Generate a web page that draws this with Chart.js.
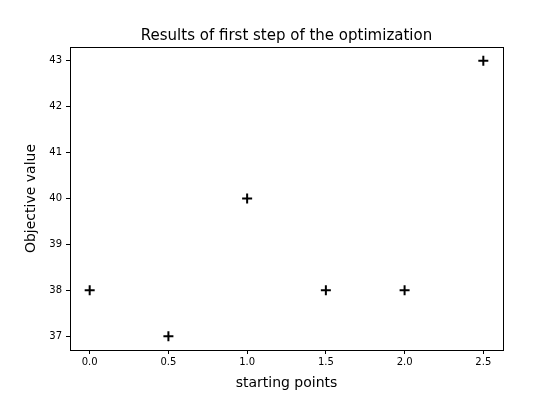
<!DOCTYPE html>
<html>
<head>
<meta charset="utf-8">
<script src="https://cdn.jsdelivr.net/npm/chart.js@4"></script>
<style>
  html, body { margin: 0; background: #fff; }
  #wrap { width: 560px; height: 400px; }
</style>
</head>
<body>
<div id="wrap"><canvas id="c"></canvas></div>
<script>
// data
const startPoints = [0.0, 0.5, 1.0, 1.5, 2.0, 2.5];
const objective = [38, 37, 40, 38, 38, 43];
const xTicks = [0.0, 0.5, 1.0, 1.5, 2.0, 2.5];
const yTicks = [37, 38, 39, 40, 41, 42, 43];
const TITLE = 'Results of first step of the optimization';

const FONT = 'DejaVu Sans';

// box round the plot area, like matplotlib spines, and title centred on it
const frame = {
    id: 'frame',
    afterDraw(chart) {
        const a = chart.chartArea, ctx = chart.ctx;
        ctx.save();
        ctx.strokeStyle = '#000';
        ctx.lineWidth = 1;
        ctx.strokeRect(a.left + 0.5, a.top + 0.5, a.right - a.left, a.bottom - a.top);
        ctx.fillStyle = '#000';
        ctx.font = `15px "${FONT}"`;
        ctx.textAlign = 'center';
        ctx.textBaseline = 'middle';
        ctx.fillText(TITLE, (a.left + a.right) / 2, 36);
        ctx.restore();
    }
};

new Chart(document.getElementById('c'), {
    type: 'scatter',
    data: {
        datasets: [{
            data: startPoints.map((x, i) => ({ x, y: objective[i] })),
            pointStyle: 'cross',
            pointRadius: 5,
            pointBorderWidth: 2,
            borderColor: '#000',
            backgroundColor: '#000',
        }],
    },
    options: {
        responsive: true,
        maintainAspectRatio: false,
        animation: false,
        layout: { padding: { left: 0, right: 57, top: 47, bottom: 0 } },
        plugins: {
            legend: { display: false },
            tooltip: { enabled: false },
            title: { display: false },
        },
        scales: {
            x: {
                type: 'linear',
                min: -0.125, max: 2.625,
                afterBuildTicks: (s) => { s.ticks = xTicks.map(v => ({ value: v })); },
                afterFit: (s) => { s.height = 50; },
                ticks: { color: '#000', font: { family: FONT, size: 10 }, padding: 2, callback: (v) => v.toFixed(1) },
                grid: { drawOnChartArea: false, tickLength: 4, color: '#000' },
                border: { color: '#000' },
                title: { display: true, text: 'starting points', color: '#000', font: { family: FONT, size: 14 }, padding: { top: 0, bottom: 8 } },
            },
            y: {
                min: 36.7, max: 43.3,
                afterBuildTicks: (s) => { s.ticks = yTicks.map(v => ({ value: v })); },
                afterFit: (s) => { s.width = 70; },
                ticks: { color: '#000', font: { family: FONT, size: 10 }, padding: 4 },
                grid: { drawOnChartArea: false, tickLength: 4, color: '#000' },
                border: { color: '#000' },
                title: { display: true, text: 'Objective value', color: '#000', font: { family: FONT, size: 14 }, padding: { top: 23, bottom: 0 } },
            },
        },
    },
    plugins: [frame],
});
</script>
</body>
</html>
